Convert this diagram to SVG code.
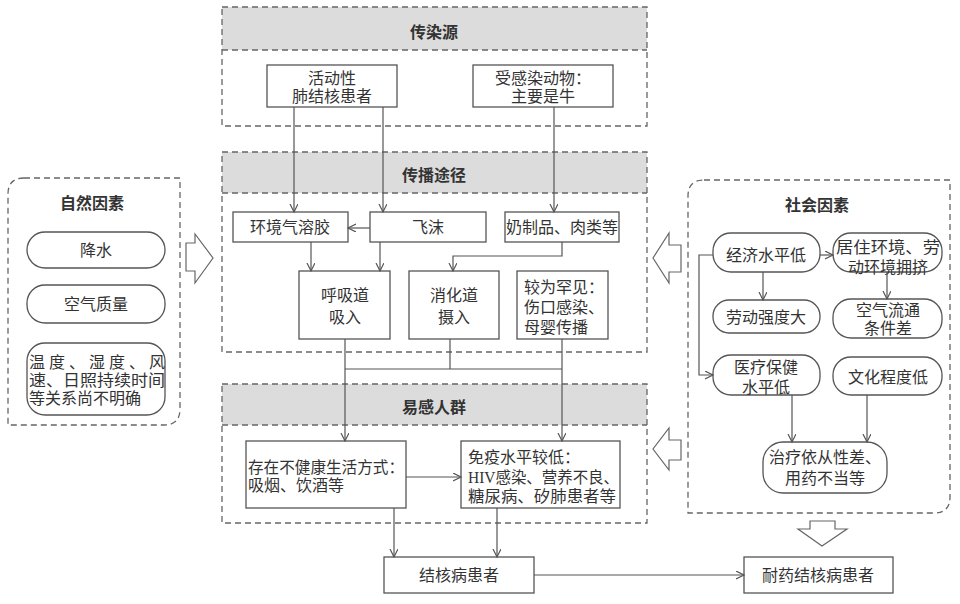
<svg xmlns="http://www.w3.org/2000/svg" width="960" height="604" viewBox="0 0 960 604">
<defs>
<marker id="ah" markerWidth="10" markerHeight="10" refX="8" refY="4" orient="auto" markerUnits="userSpaceOnUse">
<path d="M0,0 L8,4 L0,8" fill="none" stroke="#555" stroke-width="1.2"/>
</marker>
<style>
text{font-family:"Liberation Serif","Noto Sans CJK SC",sans-serif;font-size:16px;fill:#333;}
.t{text-anchor:middle;}
.b{font-weight:bold;font-family:"Noto Sans CJK SC",sans-serif;font-size:16px;}
.box{fill:#fff;stroke:#555;stroke-width:1.3;}
.sec{fill:none;stroke:#666;stroke-width:1.3;stroke-dasharray:6 4;}
.hdr{fill:#dcdcdc;stroke:none;}
.ln{fill:none;stroke:#555;stroke-width:1.2;}
.arw{fill:none;stroke:#555;stroke-width:1.2;marker-end:url(#ah);}
.blk{fill:#fff;stroke:#666;stroke-width:1.2;}
</style>
</defs>
<rect width="960" height="604" fill="#fff"/>

<g id="sec-source">
<rect class="hdr" x="222" y="7" width="425" height="43"/>
<rect class="sec" x="222" y="7" width="425" height="119"/>
<line class="sec" x1="222" y1="50" x2="647" y2="50"/>
<text class="t b" x="434" y="38">传染源</text>
</g>
<g id="sec-route">
<rect class="hdr" x="222" y="152" width="425" height="41"/>
<rect class="sec" x="222" y="152" width="425" height="200"/>
<line class="sec" x1="222" y1="193" x2="647" y2="193"/>
<text class="t b" x="434" y="181">传播途径</text>
</g>
<g id="sec-host">
<rect class="hdr" x="222" y="384" width="425" height="41"/>
<rect class="sec" x="222" y="384" width="425" height="139"/>
<line class="sec" x1="222" y1="425" x2="647" y2="425"/>
<text class="t b" x="434" y="413">易感人群</text>
</g>
<g id="sec-natural">
<path class="sec" d="M24,178 L180,178 L180,409 Q180,425 164,425 L8,425 L8,194 Q8,178 24,178 Z"/>
<text class="t b" x="92" y="209">自然因素</text>
</g>
<g id="sec-social">
<path class="sec" d="M704,180 L950,180 L950,497 Q950,513 934,513 L688,513 L688,196 Q688,180 704,180 Z"/>
<text class="t b" x="817" y="211">社会因素</text>
</g>

<g id="n-active"><rect class="box" x="267" y="65" width="130" height="42"/>
<text class="t" x="332" y="84">活动性</text><text class="t" x="332" y="102">肺结核患者</text></g>
<g id="n-animal"><rect class="box" x="473" y="65" width="140" height="42"/>
<text class="t" x="543" y="84">受感染动物：</text><text class="t" x="543" y="102">主要是牛</text></g>

<g id="n-aerosol"><rect class="box" x="233" y="212" width="115" height="30"/><text class="t" x="290" y="233">环境气溶胶</text></g>
<g id="n-droplet"><rect class="box" x="370" y="212" width="116" height="30"/><text class="t" x="428" y="233">飞沫</text></g>
<g id="n-dairy"><rect class="box" x="505" y="212" width="114" height="30"/><text class="t" x="562" y="233">奶制品、肉类等</text></g>
<g id="n-resp"><rect class="box" x="299" y="271" width="91" height="68"/>
<text class="t" x="345" y="301">呼吸道</text><text class="t" x="345" y="323">吸入</text></g>
<g id="n-digest"><rect class="box" x="409" y="271" width="90" height="68"/>
<text class="t" x="454" y="301">消化道</text><text class="t" x="454" y="323">摄入</text></g>
<g id="n-rare"><rect class="box" x="517" y="271" width="91" height="68"/>
<text x="524" y="293">较为罕见：</text><text x="524" y="313">伤口感染、</text><text x="524" y="333">母婴传播</text></g>

<g id="n-lifestyle"><rect class="box" x="246" y="441" width="160" height="67"/>
<text x="248" y="473" textLength="156" lengthAdjust="spacingAndGlyphs">存在不健康生活方式：</text><text x="248" y="491">吸烟、饮酒等</text></g>
<g id="n-immune"><rect class="box" x="461" y="441" width="159" height="67"/>
<text x="468" y="463">免疫水平较低：</text><text x="468" y="483" textLength="151" lengthAdjust="spacingAndGlyphs">HIV感染、营养不良、</text><text x="468" y="502" textLength="148" lengthAdjust="spacingAndGlyphs">糖尿病、矽肺患者等</text></g>

<g id="n-tb"><rect class="box" x="384" y="557" width="150" height="36"/><text class="t" x="459" y="581">结核病患者</text></g>
<g id="n-mdr"><rect class="box" x="744" y="557" width="149" height="36"/><text class="t" x="818" y="581">耐药结核病患者</text></g>

<g id="n-rain"><rect class="box" x="27" y="232" width="138" height="36" rx="18"/><text class="t" x="96" y="256">降水</text></g>
<g id="n-air"><rect class="box" x="27" y="285" width="138" height="38" rx="18"/><text class="t" x="96" y="310">空气质量</text></g>
<g id="n-climate"><rect class="box" x="27" y="343" width="138" height="72" rx="18"/>
<text x="29" y="368" textLength="136" lengthAdjust="spacing">温度、湿度、风</text>
<text x="29" y="386" textLength="136" lengthAdjust="spacingAndGlyphs">速、日照持续时间</text>
<text x="29" y="404">等关系尚不明确</text></g>

<g id="n-econ"><rect class="box" x="713" y="233" width="107" height="39" rx="18"/><text class="t" x="766" y="261">经济水平低</text></g>
<g id="n-housing"><rect class="box" x="833" y="233" width="109" height="39" rx="18"/>
<text class="t" x="888" y="253" textLength="104" lengthAdjust="spacingAndGlyphs">居住环境、劳</text><text class="t" x="888" y="273">动环境拥挤</text></g>
<g id="n-labor"><rect class="box" x="713" y="300" width="107" height="33" rx="16"/><text class="t" x="766" y="323">劳动强度大</text></g>
<g id="n-vent"><rect class="box" x="833" y="299" width="109" height="39" rx="18"/>
<text class="t" x="888" y="316">空气流通</text><text class="t" x="888" y="334">条件差</text></g>
<g id="n-health"><rect class="box" x="713" y="355" width="107" height="40" rx="18"/>
<text class="t" x="766" y="373">医疗保健</text><text class="t" x="766" y="393">水平低</text></g>
<g id="n-edu"><rect class="box" x="833" y="357" width="109" height="38" rx="18"/><text class="t" x="888" y="383">文化程度低</text></g>
<g id="n-adher"><rect class="box" x="763" y="442" width="124" height="51" rx="20"/>
<text class="t" x="825" y="463">治疗依从性差、</text><text class="t" x="825" y="484">用药不当等</text></g>

<g id="block-arrows">
<polygon class="blk" points="186,243 195,243 195,234 213,258 195,283 195,271 186,271"/>
<polygon class="blk" points="681,245 669,245 669,233 653,258 669,283 669,272 681,272"/>
<polygon class="blk" points="681,440 669,440 669,428 653,449 669,470 669,460 681,460"/>
<polygon class="blk" points="810,521 835,521 835,529 847,529 822,546 798,529 810,529"/>
</g>

<g id="connectors">
<line class="arw" x1="294" y1="107" x2="294" y2="212"/>
<line class="arw" x1="383" y1="107" x2="383" y2="212"/>
<line class="arw" x1="554" y1="107" x2="554" y2="212"/>
<line class="arw" x1="370" y1="228" x2="348" y2="228"/>
<line class="arw" x1="311" y1="242" x2="311" y2="271"/>
<line class="arw" x1="380" y1="242" x2="380" y2="271"/>
<polyline class="arw" points="562,242 562,256 453,256 453,271"/>
<line class="ln" x1="345" y1="339" x2="345" y2="369"/>
<line class="ln" x1="450" y1="339" x2="450" y2="369"/>
<line class="ln" x1="562" y1="339" x2="562" y2="369"/>
<line class="ln" x1="345" y1="369" x2="562" y2="369"/>
<line class="arw" x1="345" y1="369" x2="345" y2="441"/>
<line class="arw" x1="562" y1="369" x2="562" y2="441"/>
<line class="arw" x1="406" y1="477" x2="461" y2="477"/>
<line class="arw" x1="394" y1="508" x2="394" y2="557"/>
<line class="arw" x1="497" y1="508" x2="497" y2="557"/>
<line class="arw" x1="534" y1="575" x2="744" y2="575"/>
<line class="arw" x1="820" y1="255" x2="833" y2="255"/>
<line class="arw" x1="763" y1="272" x2="763" y2="300"/>
<line class="arw" x1="887" y1="272" x2="887" y2="299"/>
<polyline class="arw" points="713,255 699,255 699,375 713,375"/>
<line class="arw" x1="792" y1="395" x2="792" y2="442"/>
<line class="arw" x1="867" y1="395" x2="867" y2="442"/>
</g>
</svg>
